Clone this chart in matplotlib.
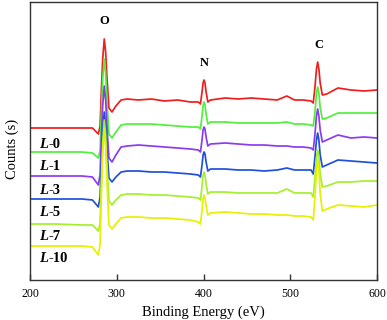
import matplotlib
matplotlib.use("Agg")
import matplotlib.pyplot as plt

# binding energy grid (eV) shared by all the spectra
energy = [200, 230, 260, 272, 278.8,
          280.8, 282.3, 283.8, 285.6, 287.2, 288.8, 291, 294.5,
          299, 305, 312, 325, 340, 355, 370, 385,
          394, 396.5, 398.3, 399.5, 400.6, 401.7, 403, 405, 408,
          425, 440, 455, 470, 485, 496, 505, 515,
          524, 526.5, 528.5, 530.2, 531.6, 533, 534.5, 537,
          542, 555, 570, 585, 600]

# stacked counts (arbitrary units, offset per sample)
l0 = [152, 152, 152, 152, 146,
      154, 190, 221, 241, 228, 201, 172, 168,
      174, 180, 181, 180, 181, 179, 180, 178,
      178, 176, 188, 197, 200, 197, 188, 178, 180,
      182, 181, 182, 181, 180, 184, 180, 180,
      179, 177, 193, 211, 218, 211, 197, 185,
      186, 192, 190, 189, 190]
l1 = [128, 128, 128, 127, 122,
      130, 168, 201, 221, 207, 178, 146, 142,
      148, 155, 156, 156, 156, 155, 154, 153,
      153, 151, 164, 174, 178, 175, 166, 156, 158,
      158, 157, 157, 157, 157, 158, 156, 156,
      155, 154, 168, 186, 193, 187, 172, 161,
      162, 167, 167, 167, 167]
l3 = [104, 104, 104, 103, 95,
      106, 143, 174, 194, 180, 152, 122, 118,
      125, 133, 134, 135, 134, 133, 132, 131,
      130, 128, 140, 150, 153, 151, 143, 134, 136,
      137, 136, 135, 135, 134, 134, 133, 133,
      132, 130, 146, 164, 171, 164, 150, 138,
      140, 145, 142, 143, 142]
l5 = [81, 81, 81, 80, 73,
      83, 118, 149, 168, 155, 130, 102, 98,
      103, 108, 109, 109, 108, 108, 107, 106,
      105, 103, 115, 125, 128, 126, 118, 109, 111,
      111, 110, 110, 109, 110, 112, 110, 110,
      110, 106, 123, 140, 147, 140, 125, 113,
      115, 120, 119, 118, 117]
l7 = [56, 56, 55, 55, 49,
      57, 100, 137, 160, 145, 113, 79, 75,
      80, 85, 86, 86, 85, 85, 84, 83,
      82, 80, 94, 104, 108, 105, 96, 86, 88,
      88, 87, 87, 87, 87, 91, 87, 87,
      87, 83, 102, 122, 130, 123, 106, 93,
      94, 98, 98, 99, 99]
l10 = [34, 34, 34, 33, 25,
       36, 85, 126, 152, 134, 96, 55, 51,
       56, 62, 63, 63, 62, 62, 61, 60,
       58, 56, 70, 81, 85, 82, 74, 65, 67,
       68, 67, 66, 66, 65, 65, 64, 64,
       63, 60, 83, 110, 120, 110, 87, 69,
       71, 75, 74, 73, 75]

series = [l0, l1, l3, l5, l7, l10]
colors = ["#f01e1e", "#50f03c", "#8c3cf0", "#1e50dc", "#a4f02c", "#e6f000"]
sample_names = ["0", "1", "3", "5", "7", "10"]
label_y = [135, 113, 90, 67, 44, 21]

peak_names = ["O", "N", "C"]
peak_x = [285.6, 400.5, 533]
peak_y = [259, 217, 235]

plt.rcParams["font.family"] = ["Liberation Serif", "DejaVu Serif"]

fig = plt.figure(figsize=(3.87, 3.2), dpi=100)
ax = fig.add_axes([30 / 387, 40 / 320, 347 / 387, 278 / 320])

for counts, c in zip(series, colors):
    ax.plot(energy, counts, color=c, lw=1.25)

for name, y in zip(sample_names, label_y):
    ax.text(221, y, "L", fontsize=10.5, fontweight="bold", fontstyle="italic",
            ha="right", va="center")
    ax.text(221, y, "-" + name, fontsize=10.5, fontweight="bold",
            ha="left", va="center")

for name, x, y in zip(peak_names, peak_x, peak_y):
    ax.text(x, y, name, fontsize=9, fontweight="bold", ha="center",
            va="center")

ax.set_xlim(200, 600)
ax.set_ylim(0, 278)
ax.set_xticks([200, 300, 400, 500, 600])
ax.set_yticks([])
ax.tick_params(axis="x", direction="in", length=4, width=1, pad=6,
               labelsize=8.5, color="#333333")
ax.set_xlabel("Binding Energy (eV)", fontsize=10.5, labelpad=4)
ax.set_ylabel("Counts (s)", fontsize=10.5)
ax.yaxis.set_label_coords(-0.032, 0.47)
for sp in ax.spines.values():
    sp.set_linewidth(1.0)
    sp.set_color("#333333")

fig.savefig("out.png", dpi=100)
